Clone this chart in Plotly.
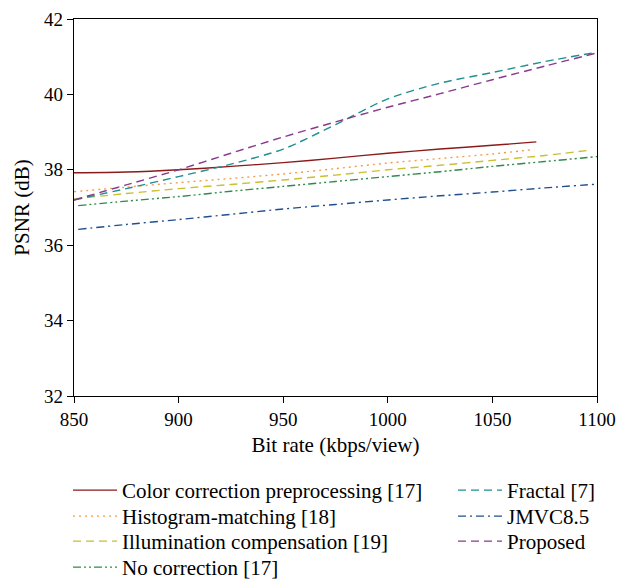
import plotly.graph_objects as go

x_cc = [850, 875, 900, 925, 950, 975, 1000, 1025, 1050, 1071]
y_cc = [37.92, 37.94, 38.0, 38.09, 38.19, 38.31, 38.44, 38.55, 38.65, 38.74]

x_hm = [850, 875, 900, 925, 950, 975, 1000, 1025, 1050, 1070]
y_hm = [37.42, 37.54, 37.66, 37.77, 37.89, 38.03, 38.18, 38.30, 38.42, 38.54]

x_ic = [850, 875, 900, 925, 950, 975, 1000, 1025, 1050, 1075, 1095]
y_ic = [37.23, 37.37, 37.50, 37.61, 37.73, 37.86, 38.00, 38.12, 38.25, 38.38, 38.51]

x_nc = [852, 875, 900, 925, 950, 975, 1000, 1025, 1050, 1075, 1100]
y_nc = [37.05, 37.17, 37.29, 37.43, 37.56, 37.69, 37.82, 37.95, 38.09, 38.22, 38.35]

x_fr = [850, 875, 900, 925, 950, 975, 1000, 1025, 1050, 1075, 1100]
y_fr = [37.20, 37.50, 37.82, 38.15, 38.55, 39.20, 39.88, 40.30, 40.58, 40.87, 41.12]

x_jm = [852, 875, 900, 925, 950, 975, 1000, 1025, 1050, 1075, 1100]
y_jm = [36.42, 36.55, 36.68, 36.82, 36.96, 37.08, 37.20, 37.31, 37.41, 37.52, 37.62]

x_pr = [850, 875, 900, 925, 950, 975, 1000, 1025, 1050, 1075, 1100]
y_pr = [37.20, 37.60, 38.00, 38.44, 38.87, 39.27, 39.66, 40.02, 40.39, 40.75, 41.10]

x_ticks = [850, 900, 950, 1000, 1050, 1100]
y_ticks = [32, 34, 36, 38, 40, 42]

names = ["Color correction preprocessing [17]", "Histogram-matching [18]",
         "Illumination compensation [19]", "No correction [17]",
         "Fractal [7]", "JMVC8.5", "Proposed"]

FONT = "Liberation Serif"

# colour, dash pattern
styles = [
    ("#8b1a1a", "solid"),
    ("#f39c4a", "2px,4px"),
    ("#c8c030", "8px,5px"),
    ("#2e8b4a", "8px,3px,2px,3px,2px,3px"),
    ("#1f8f8f", "8px,5px"),
    ("#1f4f8f", "8px,4px,2px,4px"),
    ("#8b3a8b", "8px,5px"),
]
data = [(x_cc, y_cc), (x_hm, y_hm), (x_ic, y_ic), (x_nc, y_nc),
        (x_fr, y_fr), (x_jm, y_jm), (x_pr, y_pr)]

W, H = 618, 581
ML, MR, MT, MB = 74, 21, 19, 185
PW, PH = W - ML - MR, H - MT - MB

# legend slot for each entry in pixels: (left, row centre)
leg_pos = [
    (68, 490.5), (68, 516.5), (68, 541.5), (68, 567.5),
    (453, 490.5), (453, 516.5), (453, 541.5),
]

fig = go.Figure()
for i, (name, (xs, ys), (col, dash)) in enumerate(zip(names, data, styles)):
    lg = "legend" if i == 0 else f"legend{i + 1}"
    fig.add_trace(go.Scatter(
        x=xs, y=ys, mode="lines", name=name, showlegend=True,
        line=dict(color=col, width=1.4, dash=dash, shape="spline", smoothing=0.8),
        legend=lg,
    ))

axis_common = dict(
    showgrid=False, zeroline=False, showline=True, linecolor="black", linewidth=1.2,
    mirror=True, ticks="outside", ticklen=6, tickcolor="black",
    tickfont=dict(family=FONT, size=19, color="black"),
)

legends = {}
for i, (px, py) in enumerate(leg_pos):
    key = "legend" if i == 0 else f"legend{i + 1}"
    legends[key] = dict(
        x=(px - ML) / PW, y=(H - MB - py) / PH, xref="paper", yref="paper",
        xanchor="left", yanchor="middle", visible=True,
        font=dict(family=FONT, size=21, color="black"), tracegroupgap=0,
        itemwidth=44, bgcolor="rgba(0,0,0,0)", borderwidth=0,
    )

fig.update_layout(
    width=W, height=H, showlegend=True,
    margin=dict(l=ML, r=MR, t=MT, b=MB, autoexpand=False),
    paper_bgcolor="white", plot_bgcolor="white",
    font=dict(family=FONT, color="black"),
    xaxis=dict(range=[850, 1100], tickvals=x_ticks,
               title=dict(text="Bit rate (kbps/view)", font=dict(family=FONT, size=21), standoff=8),
               **axis_common),
    yaxis=dict(range=[32, 42], tickvals=y_ticks,
               title=dict(text="PSNR (dB)", font=dict(family=FONT, size=21), standoff=8),
               **axis_common),
    **legends,
)

fig.write_html("out.html")
